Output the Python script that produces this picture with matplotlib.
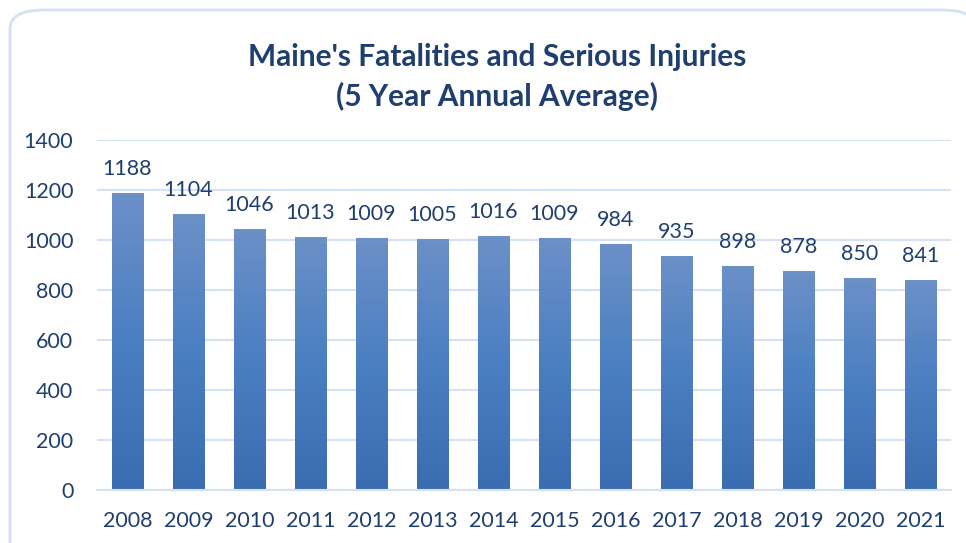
import numpy as np
import matplotlib.pyplot as plt
from matplotlib.patches import FancyBboxPatch
from matplotlib.colors import LinearSegmentedColormap

years = ['2008', '2009', '2010', '2011', '2012', '2013', '2014',
         '2015', '2016', '2017', '2018', '2019', '2020', '2021']
values = [1188, 1104, 1046, 1013, 1009, 1005, 1016,
          1009, 984, 935, 898, 878, 850, 841]
yticks = [0, 200, 400, 600, 800, 1000, 1200, 1400]

text_color = '#1f3f6e'
grid_color = '#d6e2f3'
plt.rcParams['font.family'] = ['Lato', 'DejaVu Sans']

fig = plt.figure(figsize=(9.66, 5.43), dpi=100)

# rounded frame around the chart (runs off right and bottom)
frame = FancyBboxPatch((10 / 966, -0.05), 1.0, 1.0 - 10 / 543 + 0.05,
                       boxstyle='round,pad=0,rounding_size=0.035',
                       transform=fig.transFigure, facecolor='white',
                       edgecolor='#d5e1f2', linewidth=2, zorder=-1)
fig.patches.append(frame)

ax = fig.add_axes([97 / 966, 1 - 490 / 543, (951 - 97) / 966, 350 / 543])
ax.set_facecolor('none')

x = np.arange(len(years))
bars = ax.bar(x, values, width=0.51, color='none', zorder=2)

cmap = LinearSegmentedColormap.from_list('grad', ['#3a6cb0', '#4a7fc2', '#6c90c8'])
grad = np.linspace(0, 1, 256).reshape(-1, 1)
for b in bars:
    im = ax.imshow(grad, cmap=cmap, aspect='auto', origin='lower',
                   extent=[b.get_x(), b.get_x() + b.get_width(), 0, b.get_height()],
                   zorder=2)
    im.set_clip_path(b)

for xi, v in zip(x, values):
    ax.annotate(str(v), (xi, v), xytext=(0, 10), textcoords='offset points',
                ha='center', va='bottom', fontsize=15.5, color=text_color)

ax.set_xlim(-0.5, len(years) - 0.5)
ax.set_ylim(0, 1400)
ax.set_yticks(yticks)
ax.set_xticks(x)
ax.set_xticklabels(years)
ax.yaxis.grid(True, color=grid_color, linewidth=1.5)
ax.set_axisbelow(True)
for s in ax.spines.values():
    s.set_visible(False)
ax.spines['bottom'].set_visible(True)
ax.spines['bottom'].set_color(grid_color)
ax.spines['bottom'].set_linewidth(1.5)
ax.tick_params(length=0, labelsize=15.5, labelcolor=text_color)
ax.tick_params(axis='y', pad=17)
ax.tick_params(axis='x', pad=15)

fig.text(497 / 966, 1 - 57 / 543, "Maine's Fatalities and Serious Injuries",
         ha='center', va='center', fontsize=21.5, fontweight='bold', color=text_color)
fig.text(497 / 966, 1 - 96 / 543, "(5 Year Annual Average)",
         ha='center', va='center', fontsize=21.5, fontweight='bold', color=text_color)

fig.savefig('out.png', dpi=100)
